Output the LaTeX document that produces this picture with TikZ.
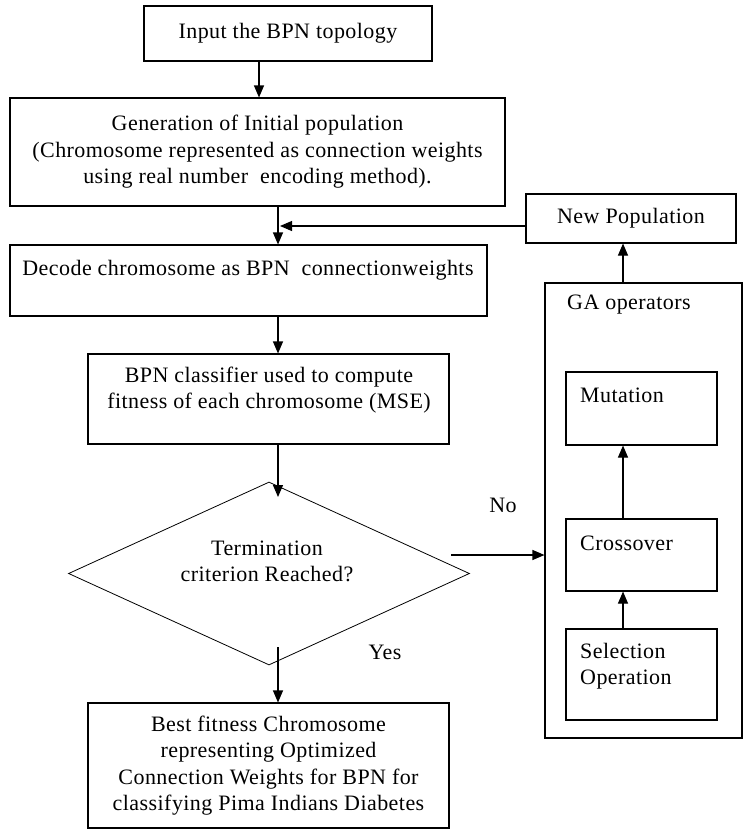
\documentclass[tikz,border=0pt]{standalone}
\usepackage{fontspec}
\setmainfont[LetterSpace=2]{Liberation Serif}
\usetikzlibrary{shapes.geometric,arrows.meta}
\begin{document}
\begin{tikzpicture}[x=1pt,y=-1pt,
  every node/.style={font=\fontsize{22}{26.5}\selectfont},
  box/.style={draw,line width=1.1pt,inner sep=0pt,align=center},
  txt/.style={inner sep=0pt,align=center},
  ltxt/.style={inner sep=0pt,align=left,anchor=west},
  arr/.style={line width=1.1pt,-{Triangle[length=12pt,width=10pt]}}]
\useasboundingbox (0,0) rectangle (744,830);
\fill[white] (0,0) rectangle (744,830);
% left column
\node[box,minimum width=288pt,minimum height=55pt] (b1) at (288,33.5) {Input the BPN topology};
\node[box,minimum width=495pt,minimum height=108pt] (b2) at (257.5,152) {Generation of Initial population\\(Chromosome represented as connection weights\\using real number\ \ encoding method).};
\node[box,minimum width=477pt,minimum height=71pt] (b3) at (248.5,280.5) {};
\node[txt] (t3) at (248,270) {Decode chromosome as BPN\ \ connectionweights};
\node[box,minimum width=361pt,minimum height=90pt] (b4) at (268.5,399) {};
\node[txt] (t4) at (269,390) {BPN classifier used to compute\\fitness of each chromosome (MSE)};
\node[draw,diamond,line width=0.8pt,minimum width=401pt,minimum height=183pt,inner sep=0pt] (d) at (269,573.5) {};
\node[txt] (td) at (267,561.5) {Termination\\criterion Reached?};
\node[box,minimum width=361pt,minimum height=125pt] (b5) at (268.5,765.5) {Best fitness Chromosome\\representing Optimized\\Connection Weights for BPN for\\classifying Pima Indians Diabetes};
% right column
\node[box,minimum width=210pt,minimum height=49pt] (np) at (631,218.5) {New Population};
\node[box,minimum width=197pt,minimum height=455pt] (ga) at (643.5,510.5) {};
\node[ltxt] (tga) at (567,305) {GA operators};
\node[box,minimum width=151pt,minimum height=73pt] (mu) at (641.5,408.5) {};
\node[ltxt] (tmu) at (580,395) {Mutation};
\node[box,minimum width=151pt,minimum height=72pt] (cr) at (641.5,555) {};
\node[ltxt] (tcr) at (580,543) {Crossover};
\node[box,minimum width=151pt,minimum height=91pt] (se) at (641.5,674.5) {};
\node[ltxt] (tse) at (580,666) {Selection\\Operation};
% labels
\node[txt] (no) at (503,505) {No};
\node[txt] (yes) at (385,652) {Yes};
% helper coordinates
\coordinate (a1) at (259,0);
\coordinate (ax) at (278,0);
\coordinate (gx) at (623,0);
\coordinate (fb) at (280,226);
\coordinate (din) at (278,497);
\coordinate (dout) at (278,647);
\coordinate (nos) at (451,555);
% connectors
\draw[arr] (b1.south -| a1) -- (b2.north -| a1);
\draw[arr] (b2.south -| ax) -- (b3.north -| ax);
\draw[arr] (np.west |- fb) -- (fb);
\draw[arr] (b3.south -| ax) -- (b4.north -| ax);
\draw[arr] (b4.south -| ax) -- (din);
\draw[arr] (dout) -- (b5.north -| ax);
\draw[arr] (nos) -- (ga.west |- nos);
\draw[arr] (se.north -| gx) -- (cr.south -| gx);
\draw[arr] (cr.north -| gx) -- (mu.south -| gx);
\draw[arr] (ga.north -| gx) -- (np.south -| gx);
\end{tikzpicture}
\end{document}
